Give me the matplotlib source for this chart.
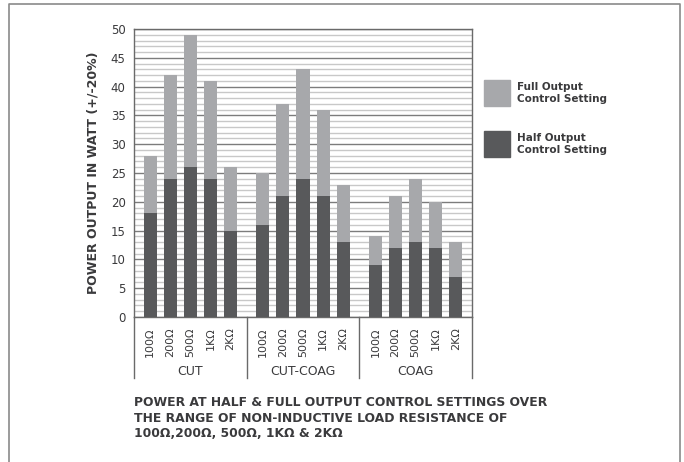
import matplotlib.pyplot as plt
import numpy as np
from matplotlib.patches import Rectangle

modes = ["CUT", "CUT-COAG", "COAG"]
loads = ["100Ω", "200Ω", "500Ω", "1KΩ", "2KΩ"]
full_output = [[28, 42, 49, 41, 26], [25, 37, 43, 36, 23], [14, 21, 24, 20, 13]]
half_output = [[18, 24, 26, 24, 15], [16, 21, 24, 21, 13], [9, 12, 13, 12, 7]]

FULL_C = "#a7a8ab"
HALF_C = "#58595b"
TXT_C = "#3a3a3c"

fig = plt.figure(figsize=(6.84, 4.62), dpi=100)
ax = fig.add_axes([134 / 684, 1 - 317 / 462, (472 - 134) / 684, (317 - 29) / 462])

# outer frame
fig.add_artist(plt.Line2D([9 / 684, 9 / 684, 680 / 684, 680 / 684],
                          [0, 1 - 4 / 462, 1 - 4 / 462, 0],
                          transform=fig.transFigure, color="#8a8a8a", lw=1.2))

group_w = 5.6
for g, mode in enumerate(modes):
    xs = g * group_w + 0.8 + np.arange(len(loads))
    half = np.array(half_output[g])
    full = np.array(full_output[g])
    ax.bar(xs, half, width=0.65, color=HALF_C, zorder=3)
    ax.bar(xs, full - half, bottom=half, width=0.65, color=FULL_C, zorder=3)
    for x, lab in zip(xs, loads):
        ax.text(x, -0.035, lab, rotation=90, ha="center", va="top",
                transform=ax.get_xaxis_transform(), fontsize=8, color=TXT_C)
    ax.text(g * group_w + group_w / 2, -0.19, mode, ha="center", va="center",
            transform=ax.get_xaxis_transform(), fontsize=9, color=TXT_C)
    ax.plot([(g + 1) * group_w] * 2, [0, -0.212], transform=ax.get_xaxis_transform(),
            color="#6a6a6a", lw=1, clip_on=False)
ax.plot([0, 0], [0, -0.212], transform=ax.get_xaxis_transform(),
        color="#6a6a6a", lw=1, clip_on=False)

ax.set_xlim(0, 3 * group_w)
ax.set_ylim(0, 50)
ax.set_yticks(np.arange(0, 51, 5))
ax.set_yticks(np.arange(0, 51, 1), minor=True)
ax.grid(axis="y", which="major", color="#7c7c7c", lw=1, zorder=1)
ax.grid(axis="y", which="minor", color="#c8c8c8", lw=1, zorder=0)
ax.set_xticks([])
ax.tick_params(axis="y", which="both", length=0, labelsize=8.5, labelcolor=TXT_C, pad=6)
for s in ax.spines.values():
    s.set_color("#6a6a6a")
    s.set_linewidth(1)

ax.set_ylabel("POWER OUTPUT IN WATT (+/-20%)", fontsize=9, fontweight="bold",
              color=TXT_C, labelpad=8)

# legend
for y0, col, lab in [(80, FULL_C, "Full Output\nControl Setting"),
                     (131, HALF_C, "Half Output\nControl Setting")]:
    fig.add_artist(Rectangle((484 / 684, 1 - (y0 + 26) / 462), 26 / 684, 26 / 462,
                             transform=fig.transFigure, color=col))
    fig.text(517 / 684, 1 - (y0 + 13) / 462, lab, ha="left", va="center",
             fontsize=7.5, fontweight="bold", color=TXT_C, linespacing=1.3)

fig.text(134 / 684, 1 - 418 / 462,
         "POWER AT HALF & FULL OUTPUT CONTROL SETTINGS OVER\n"
         "THE RANGE OF NON-INDUCTIVE LOAD RESISTANCE OF\n"
         "100Ω,200Ω, 500Ω, 1KΩ & 2KΩ",
         ha="left", va="center", fontsize=8.9, fontweight="bold", color=TXT_C,
         linespacing=1.25)

fig.savefig("out.png", dpi=100)
